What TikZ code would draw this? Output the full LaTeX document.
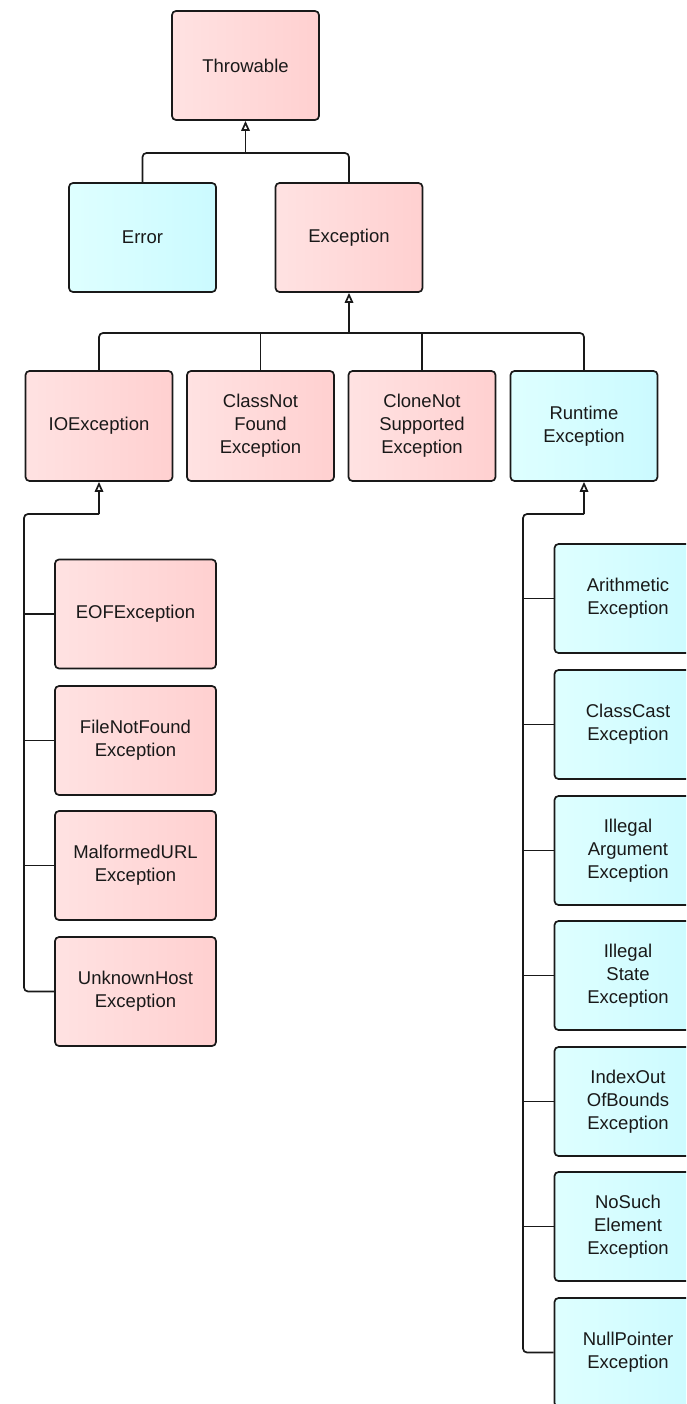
\documentclass[tikz,border=0pt]{standalone}
\usepackage{fontspec}
\setmainfont{Liberation Sans}
\usetikzlibrary{arrows.meta}
\definecolor{pinkL}{RGB}{255,226,226}
\definecolor{pinkR}{RGB}{255,208,208}
\definecolor{cyanL}{RGB}{222,255,255}
\definecolor{cyanR}{RGB}{203,250,255}
\tikzset{
  box/.style={draw=black!90, line width=1.7pt, rounded corners=4pt, minimum width=147pt, minimum height=109pt,
    align=center, inner sep=0pt, font=\fontsize{18.5}{23}\selectfont, text=black!90},
  pinkbox/.style={box, left color=pinkL, right color=pinkR},
  cyanbox/.style={box, left color=cyanL, right color=cyanR},
  conn/.style={draw=black!90, line width=1.7pt, rounded corners=4pt},
  inh/.style={conn, -{Triangle[open, length=10pt, width=8.5pt]}},
}
\begin{document}
\begin{tikzpicture}[x=1pt,y=-1pt]
\useasboundingbox (0,0) rectangle (686,1404);
\clip (0,0) rectangle (686,1404);
% level 0-1
\node[pinkbox] (thr) at (245.5,65.5) {Throwable};
\node[cyanbox] (err) at (142.5,237.5) {Error};
\node[pinkbox] (exc) at (349,237.5) {Exception};
% level 2
\node[pinkbox, minimum height=110pt] (io) at (99,426) {IOException};
\node[pinkbox, minimum height=110pt] (cnf) at (260.5,426) {ClassNot\\Found\\Exception};
\node[pinkbox, minimum height=110pt] (cns) at (422,426) {CloneNot\\Supported\\Exception};
\node[cyanbox, minimum height=110pt] (rt) at (584,426) {Runtime\\Exception};
% IO children
\node[pinkbox, minimum width=161pt] (eof) at (135.5,614) {EOFException};
\node[pinkbox, minimum width=161pt] (fnf) at (135.5,740.5) {FileNotFound\\Exception};
\node[pinkbox, minimum width=161pt] (mal) at (135.5,865.5) {MalformedURL\\Exception};
\node[pinkbox, minimum width=161pt] (uhe) at (135.5,991.5) {UnknownHost\\Exception};
% Runtime children
\node[cyanbox] (ar) at (628,598.5) {Arithmetic\\Exception};
\node[cyanbox] (cc) at (628,724.5) {ClassCast\\Exception};
\node[cyanbox] (ia) at (628,850.5) {Illegal\\Argument\\Exception};
\node[cyanbox] (is) at (628,975.5) {Illegal\\State\\Exception};
\node[cyanbox] (ioob) at (628,1101.5) {IndexOut\\OfBounds\\Exception};
\node[cyanbox] (nse) at (628,1226.5) {NoSuch\\Element\\Exception};
\node[cyanbox] (np) at (628,1352.5) {NullPointer\\Exception};
% connectors level 1
\coordinate (j1) at (245.5,153);
\draw[conn] (err.north) |- (j1) -| (exc.north);
\draw[inh] (j1) -- (thr.south);
% level 2
\coordinate (j2) at (349,333);
\draw[conn] (io.north) |- (j2) -| (rt.north);
\draw[conn] (cnf.north) -- (cnf.north |- j2);
\draw[conn] (cns.north) -- (cns.north |- j2);
\draw[inh] (j2) -- (exc.south);
% IO bus
\coordinate (j3) at (99,514);
\coordinate (iobus) at (24,514);
\draw[conn] (j3) -- (iobus) |- (uhe.west);
\draw[inh] (j3) -- (io.south);
\draw[conn] (eof.west) -- (eof.west -| iobus);
\draw[conn] (fnf.west) -- (fnf.west -| iobus);
\draw[conn] (mal.west) -- (mal.west -| iobus);
% Runtime bus
\coordinate (j4) at (584,514);
\coordinate (rtbus) at (523,514);
\draw[conn] (j4) -- (rtbus) |- (np.west);
\draw[inh] (j4) -- (rt.south);
\draw[conn] (ar.west) -- (ar.west -| rtbus);
\draw[conn] (cc.west) -- (cc.west -| rtbus);
\draw[conn] (ia.west) -- (ia.west -| rtbus);
\draw[conn] (is.west) -- (is.west -| rtbus);
\draw[conn] (ioob.west) -- (ioob.west -| rtbus);
\draw[conn] (nse.west) -- (nse.west -| rtbus);
\end{tikzpicture}
\end{document}
